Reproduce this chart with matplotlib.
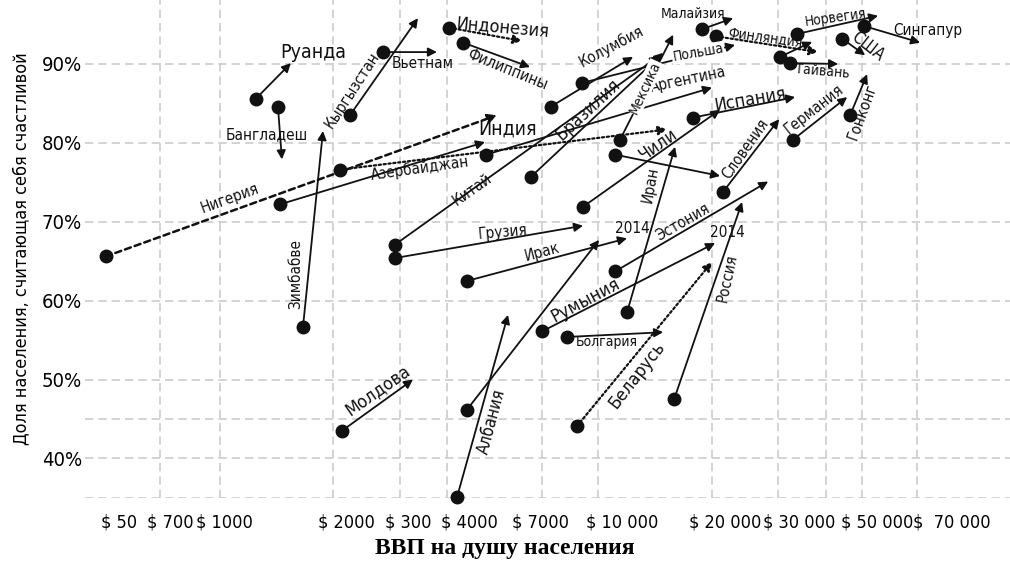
import numpy as np
import matplotlib
matplotlib.use('Agg')
import matplotlib.pyplot as plt

plt.rcParams['font.family'] = ['DejaVu Sans']
plt.rcParams['font.stretch'] = 'condensed'

# arrows: start -> end, GDP per capita ($) and share of happy people (%)
countries = ['Руанда', 'Бангладеш', 'Нигерия', 'Зимбабве', 'Кыргызстан', 'Вьетнам',
             'Индонезия', 'Филиппины', 'Колумбия', 'Польша', 'Малайзия', 'Финляндия',
             'Норвегия', 'Сингапур', 'США', 'Тайвань', 'Новая Зеландия', 'Германия',
             'Гонконг', 'Испания', 'Чили', 'Уругвай', 'Аргентина', 'Индия',
             'Азербайджан', 'Бразилия', 'Китай', 'Мексика', 'Словения', 'Иран',
             'Грузия', 'Ирак', 'Эстония', 'Румыния', 'Болгария', 'Беларусь',
             'Россия', 'Албания', 'Латвия', 'Молдова']
gdp_start = [1197, 1360, 501, 1572, 2065, 2500, 3666, 3977, 6625, 7930, 15900, 17250,
             27600, 40700, 35830, 26500, 25000, 26960, 37520, 15100, 7977, 9603, 4544, 1376,
             1948, 5900, 2681, 9886, 17970, 10290, 2681, 4071, 9603, 6287, 7270, 7700,
             13520, 3841, 4071, 1970]
gdp_end = [1466, 1392, 4843, 1766, 3063, 3420, 5600, 5866, 10660, 19260, 19040, 31170,
           44130, 56300, 40940, 35000, 30100, 36880, 41410, 27280, 17660, 17660, 16850, 4518,
           12990, 12690, 12400, 13450, 24860, 13600, 7977, 10290, 23330, 17150, 12690, 16850,
           20060, 5162, 8753, 2976]
happy_start = [85.6, 84.6, 65.6, 56.6, 83.5, 91.5, 94.6, 92.7, 84.6, 87.6, 94.4, 93.5,
               93.8, 94.8, 93.2, 90.1, 90.9, 80.4, 83.5, 83.2, 71.9, 78.5, 78.5, 72.2,
               76.6, 75.7, 67.1, 80.4, 73.8, 58.5, 65.4, 62.5, 63.7, 56.1, 55.4, 44.1,
               47.5, 35.1, 46.2, 43.5]
happy_end = [90.1, 77.9, 83.5, 81.5, 95.8, 91.5, 92.9, 89.6, 90.9, 92.4, 95.8, 91.5,
             96.1, 92.7, 91.1, 90.0, 92.8, 85.8, 88.7, 85.8, 84.2, 75.8, 87.0, 80.1,
             81.7, 91.4, 91.0, 93.7, 83.0, 79.5, 69.5, 67.9, 75.1, 67.3, 56.0, 64.9,
             72.5, 58.2, 67.7, 50.0]
line_styles = ['-', '-', '--', '-', '-', '-', ':', '-', '-', '-', '-', ':',
               '-', '-', '-', '-', '-', '-', '-', '-', '-', '-', '-', '-',
               ':', '-', '-', '-', '-', '-', '-', '-', '-', '-', '-', ':',
               '-', '-', '-', '-']

# labels along the arrows
label_text = ['Руанда', 'Бангладеш', 'Нигерия', 'Зимбабве', 'Кыргызстан', 'Вьетнам',
              'Индонезия', 'Филиппины', 'Колумбия', 'Польша', 'Малайзия', 'Финляндия',
              'Норвегия', 'Сингапур', 'США', 'Тайвань', 'Германия', 'Гонконг',
              'Испания', 'Аргентина', 'Мексика', 'Бразилия', 'Чили', 'Индия',
              'Азербайджан', 'Китай', 'Словения', 'Иран', 'Грузия', 'Ирак', '2014',
              '2014', 'Эстония', 'Румыния', 'Болгария', 'Беларусь', 'Россия',
              'Албания', 'Молдова']
label_x = [1666, 1276, 1029, 1510, 2089, 3153, 5015, 5132, 9382, 15540, 15100, 22920,
           34400, 58980, 41650, 31900, 30450, 40230, 21010, 14670, 11430, 8210, 12320, 5162,
           3099, 4191, 20400, 11760, 5015, 6287, 10600, 18390, 14250, 8070, 9166, 10910,
           18390, 4704, 2429]
label_y = [91.5, 81.0, 73.0, 63.4, 86.7, 90.1, 94.6, 89.2, 92.2, 91.4, 96.3, 93.3,
           95.9, 94.2, 92.2, 89.0, 84.2, 83.9, 85.4, 88.0, 87.0, 84.2, 79.8, 81.7,
           76.8, 74.1, 79.2, 74.7, 68.7, 66.2, 69.1, 68.6, 70.0, 60.1, 54.7, 50.6,
           62.9, 44.7, 48.7]
label_rot = [0, 0, 20, 90, 57, 0, -5, -22, 28, 10, 0, -8,
             8, 0, -38, -5, 38, 70, 10, 12, 65, 43, 35, 0,
             8, 35, 55, 80, 5, 15, 0, 0, 30, 28, 0, 52,
             78, 75, 35]
label_size = [14, 11, 11, 11, 11, 11, 13, 11, 11, 10, 10, 10,
              10, 11, 12, 10, 11, 11, 13, 11, 10, 13, 13, 14,
              11, 11, 11, 11, 11, 11, 11, 11, 11, 13, 10, 13,
              11, 12, 13]
boxed = ['Польша', 'Мексика']

y_ticks = [40, 50, 60, 70, 80, 90]
y_grid = [35, 40, 45, 50, 60, 70, 80, 90]
x_grid = [686, 971, 1870, 2760, 3620, 6290, 8720, 16800, 24700, 32700, 40200, 55200]
x_tick_vals = [541, 727, 1000, 2028, 2891, 4140, 6220, 10000, 18150, 28000, 43800, 67500]
x_tick_labels = ['$ 50', '$ 700', '$ 1000', '$ 2000', '$ 300', '$ 4000', '$ 7000',
                 '$ 10 000', '$ 20 000', '$ 30 000', '$ 50 000', '$  70 000']

fig = plt.figure(figsize=(10.1, 5.79), dpi=100)
ax = fig.add_axes([0.084, 0.14, 0.916, 0.86])
ax.set_xscale('log')
ax.set_xlim(444, 94800)
ax.set_ylim(35, 98.1)

for s in ax.spines.values():
    s.set_visible(False)
ax.minorticks_off()
ax.tick_params(length=0)

grid_kw = dict(color='#cccccc', lw=1.2, ls=(0, (5, 3)), zorder=0)
for g in y_grid:
    ax.axhline(g, **grid_kw)
for g in x_grid:
    ax.axvline(g, **grid_kw)

ax.set_yticks(y_ticks)
ax.set_yticklabels([f'{v}%' for v in y_ticks], fontsize=14.5)
ax.set_xticks(x_tick_vals)
ax.set_xticklabels(x_tick_labels, fontsize=13)
ax.tick_params(axis='x', pad=11)
ax.tick_params(axis='y', pad=2)

for i in range(len(countries)):
    ls = line_styles[i]
    lw = 1.3
    if ls == '--':
        ls, lw = (0, (2.5, 1.6)), 1.8
    elif ls == ':':
        ls, lw = (0, (1, 1.2)), 1.6
    ax.annotate('', xy=(gdp_end[i], happy_end[i]), xytext=(gdp_start[i], happy_start[i]),
                arrowprops=dict(arrowstyle='-|>', color='#111111', lw=lw,
                                linestyle=ls, mutation_scale=13,
                                shrinkA=0, shrinkB=0), zorder=3)
ax.plot(gdp_start, happy_start, 'o', color='#111111', ms=9, zorder=4, clip_on=False)

for i in range(len(label_text)):
    bbox = None
    if label_text[i] in boxed:
        bbox = dict(facecolor='white', edgecolor='none', pad=0.5)
    ax.text(label_x[i], label_y[i], label_text[i], fontsize=label_size[i],
            rotation=label_rot[i], ha='center', va='center', color='#111111',
            rotation_mode='anchor', bbox=bbox, zorder=5)

ax.set_ylabel('Доля населения, считающая себя счастливой', fontsize=13, labelpad=8)
fig.text(0.5, 0.053, 'ВВП на душу населения', ha='center', va='center',
         fontsize=17, fontweight='bold', family='Liberation Serif', stretch='normal')

fig.savefig('out.png', dpi=100)
